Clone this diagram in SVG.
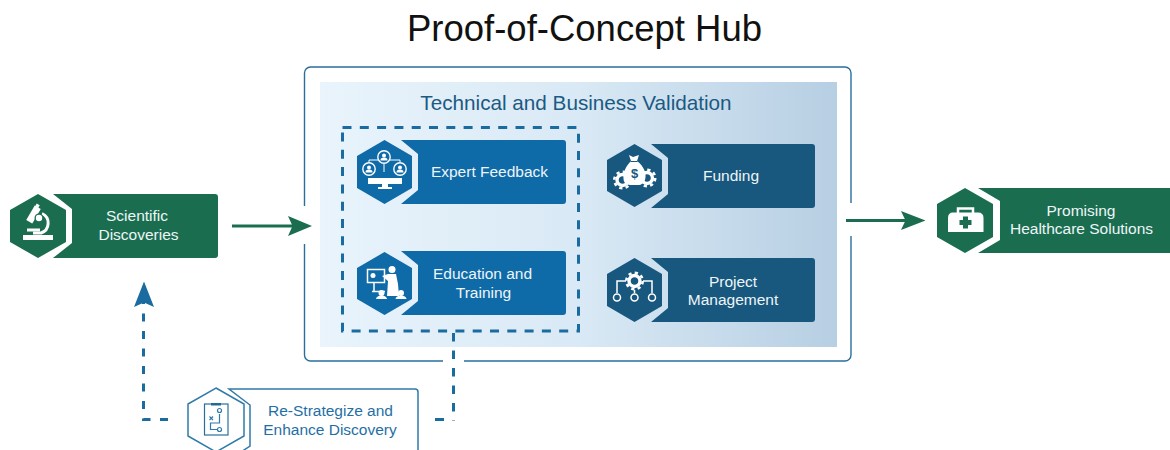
<svg xmlns="http://www.w3.org/2000/svg" xmlns:xlink="http://www.w3.org/1999/xlink" width="1170" height="450" viewBox="0 0 1170 450">
<style>
text{font-family:"Liberation Sans",Arial,sans-serif;text-anchor:middle}
.lbl{font-size:15.5px;fill:#eef5f8}
.green{fill:#1a6e4f}.blue{fill:#0f6aa8}.navy{fill:#18587e}
.ic{fill:#fff;stroke:none}
.il{fill:none;stroke:#fff;stroke-width:1.5}
.box{fill:none;stroke:#2a6f9c;stroke-width:1.400}
.dash{fill:none;stroke:#1a6ca0;stroke-width:3}
.ga{fill:none;stroke:#1a6e4f;stroke-width:3}
.gh{fill:#1a6e4f}.bh{fill:#1a6ca0}
.ol{fill:#fff;stroke:#2f7baa;stroke-width:1.5}
</style>
<defs>
<linearGradient id="panel" x1="0" y1="0" x2="1" y2="0">
<stop offset="0" stop-color="#e9f4fc"/><stop offset="0.5" stop-color="#d9e9f5"/><stop offset="1" stop-color="#b7cfe3"/>
</linearGradient>
<g id="gear">
<circle r="5.5" fill="none" stroke="#fff" stroke-width="3.4"/>
<circle r="8.2" fill="none" stroke="#fff" stroke-width="2.6" stroke-dasharray="3.2 3.24"/>
</g>
<g id="head"><circle r="6.2" fill="none" stroke="#fff" stroke-width="1.4"/><circle cy="-1.6" r="2" fill="#fff"/><path d="M-3.6 3.6a3.6 3.2 0 0 1 7.2 0z" fill="#fff"/></g>
</defs>

<text x="584.500" y="41" font-size="36.500" fill="#111">Proof-of-Concept Hub</text>

<g id="hub-frame">
<path class="box" d="M304.500 206V73a6 6 0 0 1 6-6H845a6 6 0 0 1 6 6V203M851 236V355a6 6 0 0 1-6 6H464M443 361H310.500a6 6 0 0 1-6-6V244"/>
<rect x="320" y="82" width="517" height="265" fill="url(#panel)"/>
<text x="576" y="109.500" font-size="20.700" fill="#1b5a82">Technical and Business Validation</text>
<rect class="dash" x="342.500" y="127.500" width="236" height="203.500" stroke-dasharray="9 8.300"/>
</g>

<g id="connectors">
<path class="ga" d="M232 226H294"/>
<path class="gh" d="M312 226L288 216L292.500 226L288 236Z"/>
<path class="ga" d="M846 220.500H908"/>
<path class="gh" d="M925.500 220.500L901 211L905.500 220.500L901 230Z"/>
<path class="dash" d="M168 419.500H143.500V301" stroke-dasharray="8 9.500"/>
<path class="bh" d="M144 281.500L134 307L144 302.500L154 307Z"/>
<path class="dash" d="M453.500 333V421" stroke-dasharray="8.500 9"/>
<path class="dash" d="M435 419.500H444"/>
</g>

<g id="scientific-discoveries">
<path class="green" d="M53 194H215a3 3 0 0 1 3 3V255a3 3 0 0 1-3 3H53L72 243V209Z"/>
<polygon class="green" points="38,194 66,210 66,242 38,258 10,242 10,210"/>
<rect class="ic" x="23" y="235" width="30" height="5"/>
<rect class="ic" x="27" y="228.500" width="13" height="3"/>
<path class="il" style="stroke-width:3" d="M42 213.500a10.500 10.500 0 0 1-1 19.500h-8"/>
<rect class="ic" x="30" y="206" width="7" height="17" transform="rotate(30 33.500 214.500)"/>
<rect class="ic" x="35.500" y="204" width="3.500" height="4" transform="rotate(30 37 206)"/>
<circle cx="39" cy="218" r="4.500" fill="#1a6e4f"/>
<circle class="ic" cx="39" cy="218" r="3.200"/>
<text class="lbl" x="137" y="221">Scientific</text>
<text class="lbl" x="138.500" y="240">Discoveries</text>
</g>

<g id="expert-feedback">
<path class="blue" d="M401 140H563a3 3 0 0 1 3 3V201a3 3 0 0 1-3 3H401L418 190V154Z"/>
<polygon class="blue" points="384.500,140 412,156 412,188 384.500,204 357,188 357,156"/>
<use xlink:href="#head" x="384" y="157"/>
<use xlink:href="#head" x="369" y="169"/>
<use xlink:href="#head" x="400" y="169"/>
<path class="il" style="stroke-width:1" d="M369 162V160H378M390 160H400V162M384 164V172"/>
<rect class="ic" x="368" y="178" width="34" height="6"/>
<path class="ic" d="M382 184h6v3h4v2h-14v-2h4Z"/>
<text class="lbl" x="489.500" y="177">Expert Feedback</text>
</g>

<g id="education-training">
<path class="blue" d="M401 251H563a3 3 0 0 1 3 3V312a3 3 0 0 1-3 3H401L418 301V265Z"/>
<polygon class="blue" points="384.500,252 412,268 412,299 384.500,315 357,299 357,268"/>
<rect class="il" x="367.500" y="269.500" width="17" height="13"/>
<circle class="ic" cx="373" cy="275.500" r="2.500"/>
<path class="il" d="M374 283V291M372 291.500H385"/>
<circle class="ic" cx="392" cy="269.500" r="3.500"/>
<path class="ic" d="M382 276L388 274H396L398 284L399 296H387L388 281Z"/>
<circle class="ic" cx="381.500" cy="293" r="3"/>
<path class="ic" d="M376 299a5.500 3.500 0 0 1 11 0Z"/>
<circle class="ic" cx="401" cy="293" r="3"/>
<path class="ic" d="M395.500 299a5.500 3.500 0 0 1 11 0Z"/>
<text class="lbl" x="482.500" y="279">Education and</text>
<text class="lbl" x="483.500" y="298">Training</text>
</g>

<g id="funding">
<path class="navy" d="M651 144H812a3 3 0 0 1 3 3V205a3 3 0 0 1-3 3H651L668 194V158Z"/>
<polygon class="navy" points="634.500,144 662,160 662,191 634.500,207 607,191 607,160"/>
<use xlink:href="#gear" x="622.500" y="180"/>
<use xlink:href="#gear" x="647" y="178"/>
<path class="ic" d="M629 155L633 157L639 155L637 161C644 166 647 174 645 180C643 186 637 185 634 185C629 185 624 185 623.500 179C623 172 626 166 631 161Z"/>
<path d="M630.500 161.500h7" stroke="#18587e" stroke-width="1"/>
<text x="634.500" y="178" font-size="13" font-weight="bold" fill="#18587e">$</text>
<text class="lbl" x="731" y="181">Funding</text>
</g>

<g id="project-management">
<path class="navy" d="M651 258H812a3 3 0 0 1 3 3V319a3 3 0 0 1-3 3H651L668 308V272Z"/>
<polygon class="navy" points="634.500,258 662,274 662,306 634.500,322 607,306 607,274"/>
<path class="il" d="M617 293V281H626M643 281H652V293M634.500 290V293"/>
<use xlink:href="#gear" x="634.500" y="281"/>
<circle class="il" cx="617" cy="297.500" r="3.500"/>
<circle class="il" cx="634.500" cy="297.500" r="3.500"/>
<circle class="il" cx="652" cy="297.500" r="3.500"/>
<text class="lbl" x="733" y="286.500">Project</text>
<text class="lbl" x="733" y="305">Management</text>
</g>

<g id="promising-healthcare">
<path class="green" d="M978 188H1170V253H978L1000 240V201Z"/>
<polygon class="green" points="965,188 993,204 993,237 965,253 937,237 937,204"/>
<path class="il" style="stroke-width:2.500" d="M958 213V208.500H973V213"/>
<path class="ic" d="M953 212.500H978Q983.500 212.500 983.500 218V232H948V218Q948 212.500 953 212.500Z"/>
<path class="green" d="M963 216.500h5v3.500h3.500v5h-3.500v3.500h-5v-3.500h-3.500v-5h3.500Z"/>
<text class="lbl" x="1081" y="216">Promising</text>
<text class="lbl" x="1081.500" y="234">Healthcare Solutions</text>
</g>

<g id="re-strategize">
<path class="ol" d="M229 389H415a3 3 0 0 1 3 3V460H229L250 446V405Z"/>
<polygon class="ol" points="216,388 244,404 244,436 216,452 188,436 188,404"/>
<rect class="box" x="204.500" y="404" width="23.500" height="31" style="stroke-width:1.200"/>
<rect x="211" y="403" width="10" height="2.500" fill="#1f6a99"/>
<g fill="none" stroke="#2f7baa" stroke-width="1.200">
<circle cx="219.500" cy="410.500" r="2"/>
<circle cx="219.500" cy="429.500" r="2"/>
<path d="M209.500 416.500l3.500 3.500m0-3.500l-3.500 3.500M219.500 414V423H210.500V429.500H217"/>
</g>
<text x="330.500" y="416" font-size="15.500" fill="#1f6fa5">Re-Strategize and</text>
<text x="330" y="434.500" font-size="15.500" fill="#1f6fa5">Enhance Discovery</text>
</g>
</svg>
